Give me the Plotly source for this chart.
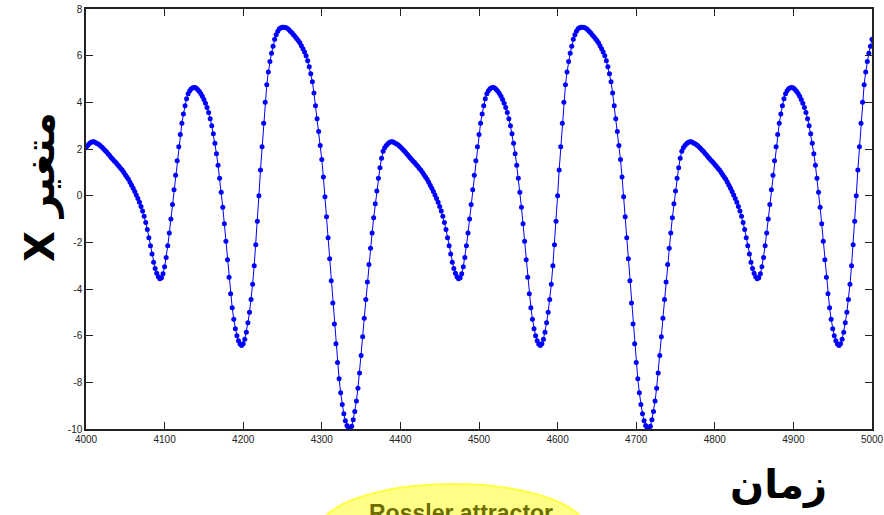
import plotly.graph_objects as go

# sample times (step 2)
t_start, t_end, t_step = 4000, 5000, 2

# X variable (three repetitions of the period-3 orbit)
y_cycle1 = [2.05, 2.15, 2.23, 2.28, 2.31, 2.31, 2.28, 2.24, 2.20, 2.15,
            2.09, 2.02, 1.95, 1.88, 1.80, 1.72, 1.64, 1.56, 1.49, 1.42,
            1.34, 1.26, 1.18, 1.10, 1.00, 0.90, 0.80, 0.70, 0.58, 0.45,
            0.32, 0.18, 0.03, -0.12, -0.28, -0.46, -0.66, -0.88, -1.15, -1.45,
            -1.80, -2.15, -2.50, -2.85, -3.12, -3.33, -3.48, -3.56, -3.52, -3.35,
            -3.05, -2.65, -2.15, -1.60, -1.00, -0.38, 0.25, 0.88, 1.50, 2.10,
            2.62, 3.10, 3.50, 3.85, 4.15, 4.37, 4.50, 4.58, 4.63, 4.64,
            4.61, 4.55, 4.47, 4.38, 4.26, 4.12, 3.96, 3.78, 3.56, 3.30,
            3.00, 2.65, 2.25, 1.80, 1.30, 0.75, 0.15, -0.50, -1.20, -1.95,
            -2.75, -3.50, -4.20, -4.80, -5.30, -5.70, -6.00, -6.22, -6.36, -6.42,
            -6.35, -6.15, -5.85, -5.45, -5.00, -4.45, -3.80, -3.00, -2.10, -1.10,
            0.00, 1.10, 2.10, 3.10, 4.00, 4.75, 5.30, 5.75, 6.10, 6.40,
            6.70, 6.90, 7.05, 7.15, 7.20, 7.22, 7.22, 7.21, 7.18, 7.12,
            7.05, 6.98, 6.90, 6.82, 6.74, 6.65, 6.55, 6.43, 6.30, 6.16,
            6.00, 5.78, 5.52, 5.22, 4.88, 4.40, 3.85, 3.30, 2.75, 2.15,
            1.55, 0.80, -0.05, -0.90, -1.80, -2.70, -3.65, -4.60, -5.50, -6.35,
            -7.15, -7.85, -8.45, -8.95, -9.35, -9.65, -9.85, -9.96, -9.98, -9.88,
            -9.60, -9.25, -8.80, -8.25, -7.60, -6.85, -6.05, -5.25, -4.45, -3.70,
            -2.95, -2.25, -1.60, -0.95, -0.35, 0.20, 0.75, 1.20, 1.60, 1.90]

y_cycle2 = [2.05, 2.15, 2.23, 2.28, 2.31, 2.31, 2.28, 2.24, 2.20, 2.15,
            2.09, 2.02, 1.95, 1.88, 1.80, 1.72, 1.64, 1.56, 1.49, 1.42,
            1.34, 1.26, 1.18, 1.10, 1.00, 0.90, 0.80, 0.70, 0.58, 0.45,
            0.32, 0.18, 0.03, -0.12, -0.28, -0.46, -0.66, -0.88, -1.15, -1.45,
            -1.80, -2.15, -2.50, -2.85, -3.12, -3.33, -3.48, -3.56, -3.52, -3.35,
            -3.05, -2.65, -2.15, -1.60, -1.00, -0.38, 0.25, 0.88, 1.50, 2.10,
            2.62, 3.10, 3.50, 3.85, 4.15, 4.37, 4.50, 4.58, 4.63, 4.64,
            4.61, 4.55, 4.47, 4.38, 4.26, 4.12, 3.96, 3.78, 3.56, 3.30,
            3.00, 2.65, 2.25, 1.80, 1.30, 0.75, 0.15, -0.50, -1.20, -1.95,
            -2.75, -3.50, -4.20, -4.80, -5.30, -5.70, -6.00, -6.22, -6.36, -6.42,
            -6.35, -6.15, -5.85, -5.45, -5.00, -4.45, -3.80, -3.00, -2.10, -1.10,
            0.00, 1.10, 2.10, 3.10, 4.00, 4.75, 5.30, 5.75, 6.10, 6.40,
            6.70, 6.90, 7.05, 7.15, 7.20, 7.22, 7.22, 7.21, 7.18, 7.12,
            7.05, 6.98, 6.90, 6.82, 6.74, 6.65, 6.55, 6.43, 6.30, 6.16,
            6.00, 5.78, 5.52, 5.22, 4.88, 4.40, 3.85, 3.30, 2.75, 2.15,
            1.55, 0.80, -0.05, -0.90, -1.80, -2.70, -3.65, -4.60, -5.50, -6.35,
            -7.15, -7.85, -8.45, -8.95, -9.35, -9.65, -9.85, -9.96, -9.98, -9.88,
            -9.60, -9.25, -8.80, -8.25, -7.60, -6.85, -6.05, -5.25, -4.45, -3.70,
            -2.95, -2.25, -1.60, -0.95, -0.35, 0.20, 0.75, 1.20, 1.60, 1.90]

y_cycle3 = [2.05, 2.15, 2.23, 2.28, 2.31, 2.31, 2.28, 2.24, 2.20, 2.15,
            2.09, 2.02, 1.95, 1.88, 1.80, 1.72, 1.64, 1.56, 1.49, 1.42,
            1.34, 1.26, 1.18, 1.10, 1.00, 0.90, 0.80, 0.70, 0.58, 0.45,
            0.32, 0.18, 0.03, -0.12, -0.28, -0.46, -0.66, -0.88, -1.15, -1.45,
            -1.80, -2.15, -2.50, -2.85, -3.12, -3.33, -3.48, -3.56, -3.52, -3.35,
            -3.05, -2.65, -2.15, -1.60, -1.00, -0.38, 0.25, 0.88, 1.50, 2.10,
            2.62, 3.10, 3.50, 3.85, 4.15, 4.37, 4.50, 4.58, 4.63, 4.64,
            4.61, 4.55, 4.47, 4.38, 4.26, 4.12, 3.96, 3.78, 3.56, 3.30,
            3.00, 2.65, 2.25, 1.80, 1.30, 0.75, 0.15, -0.50, -1.20, -1.95,
            -2.75, -3.50, -4.20, -4.80, -5.30, -5.70, -6.00, -6.22, -6.36, -6.42,
            -6.35, -6.15, -5.85, -5.45, -5.00, -4.45, -3.80, -3.00, -2.10, -1.10,
            0.00, 1.10, 2.10, 3.10, 4.00, 4.75, 5.30, 5.75, 6.10, 6.40,
            6.70]

x_tick_vals = [4000, 4100, 4200, 4300, 4400, 4500, 4600, 4700, 4800, 4900, 5000]
x_tick_text = ["4000", "4100", "4200", "4300", "4400", "4500", "4600", "4700", "4800", "4900", "5000"]
y_tick_vals = [8, 6, 4, 2, 0, -2, -4, -6, -8, -10]
y_tick_text = ["8", "6", "4", "2", "0", "-2", "-4", "-6", "-8", "-10"]

y_title = "متغیر X"
x_title = "زمان"
badge_text = "Rossler attractor"

t = list(range(t_start, t_end + 1, t_step))
y = y_cycle1 + y_cycle2 + y_cycle3

fig = go.Figure()
fig.add_trace(go.Scatter(
    x=t, y=y, mode="lines+markers",
    line=dict(color="#0000FF", width=1),
    marker=dict(color="#0000FF", size=5),
    hoverinfo="skip",
))

axis_common = dict(
    ticks="inside", ticklen=7, tickcolor="#222222", tickwidth=1,
    showline=True, linecolor="#222222", linewidth=1.5, mirror="ticks",
    showgrid=False, zeroline=False, automargin=False,
    tickfont=dict(family="Liberation Sans, Arial, sans-serif", size=10, color="#222222"),
)
fig.update_xaxes(range=[4000, 5000], tickvals=x_tick_vals, ticktext=x_tick_text, **axis_common)
fig.update_yaxes(range=[-10, 8], tickvals=y_tick_vals, ticktext=y_tick_text, **axis_common)

fig.update_layout(
    width=884, height=515,
    margin=dict(l=86, r=12, t=9, b=86),
    paper_bgcolor="white", plot_bgcolor="white",
    showlegend=False,
)

# yellow ellipse badge
fig.add_shape(type="circle", xref="paper", yref="paper",
              x0=(318 - 86) / 786, x1=(588 - 86) / 786,
              y0=(429 - 580) / 420, y1=(429 - 484) / 420,
              fillcolor="#FFFF88", line=dict(color="#FFFF44", width=2), layer="above")

fig.add_annotation(text="<b>" + badge_text + "</b>", xref="paper", yref="paper",
                   x=(461 - 86) / 786, y=(429 - 498) / 420, xanchor="center", yanchor="top",
                   showarrow=False,
                   font=dict(family="Liberation Sans, Arial, sans-serif", size=23, color="#6E6E00"))

# RTL embedding so the label reads as in the original (X at the bottom when rotated)
fig.add_annotation(text="<b>\u202b" + y_title + "\u202c</b>", xref="paper", yref="paper",
                   x=(40 - 86) / 786, y=(429 - 187) / 420, xanchor="center", yanchor="middle",
                   textangle=-90, showarrow=False,
                   font=dict(family="DejaVu Sans, sans-serif", size=40, color="black"))

fig.add_annotation(text="<b>" + x_title + "</b>", xref="paper", yref="paper",
                   x=(778 - 86) / 786, y=(429 - 484) / 420, xanchor="center", yanchor="middle",
                   showarrow=False,
                   font=dict(family="DejaVu Sans, sans-serif", size=40, color="black"))

fig.write_html("out.html")
